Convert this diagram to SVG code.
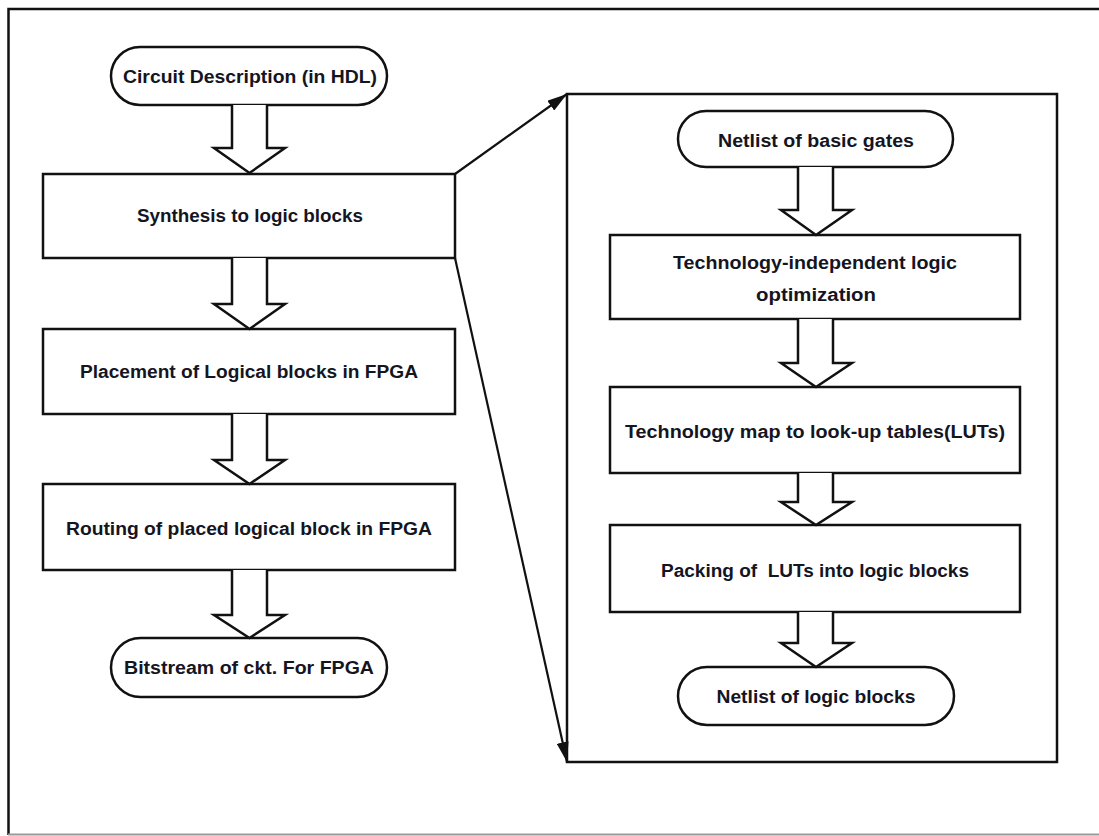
<svg xmlns="http://www.w3.org/2000/svg" width="1099" height="836" viewBox="0 0 1099 836">
  <defs>
    <style>
      .box { fill: #fff; stroke: #111; stroke-width: 2.5; }
      .flow { fill: #fff; stroke: #111; stroke-width: 2.5; stroke-linejoin: miter; }
      .lbl { font-family: "Liberation Sans", Arial, sans-serif; font-weight: bold; font-size: 18px; fill: #15151f; text-anchor: middle; }
      .link { fill: none; stroke: #111; stroke-width: 2.2; }
    </style>
    <marker id="head" viewBox="0 0 20 12" refX="20" refY="6" markerWidth="20" markerHeight="12" markerUnits="userSpaceOnUse" orient="auto">
      <path d="M0,0 L20,6 L0,12 Z" fill="#111"/>
    </marker>
  </defs>

  <rect width="1099" height="836" fill="#fff"/>

  <!-- outer frame -->
  <g id="frame">
    <path d="M8.5,835 L8.5,9 L1099,9" fill="none" stroke="#111" stroke-width="2.5"/>
    <path d="M8,834.5 L1099,834.5" fill="none" stroke="#999" stroke-width="2"/>
  </g>

  <!-- left column: design flow -->
  <g id="n-circuit">
    <rect class="box" x="111" y="47" width="276" height="58" rx="29"/>
    <text class="lbl" x="250" y="83" textLength="254" lengthAdjust="spacingAndGlyphs">Circuit Description (in HDL)</text>
  </g>
  <g id="n-synthesis">
    <rect class="box" x="43" y="174" width="412" height="84"/>
    <text class="lbl" x="250" y="222" textLength="226" lengthAdjust="spacingAndGlyphs">Synthesis to logic blocks</text>
  </g>
  <g id="n-placement">
    <rect class="box" x="43" y="329" width="412" height="85"/>
    <text class="lbl" x="249" y="378" textLength="338" lengthAdjust="spacingAndGlyphs">Placement of Logical blocks in FPGA</text>
  </g>
  <g id="n-routing">
    <rect class="box" x="43" y="484" width="412" height="86"/>
    <text class="lbl" x="249" y="535" textLength="366" lengthAdjust="spacingAndGlyphs">Routing of placed logical block in FPGA</text>
  </g>
  <g id="n-bitstream">
    <rect class="box" x="111" y="638" width="276" height="59" rx="29.5"/>
    <text class="lbl" x="249" y="674" textLength="250" lengthAdjust="spacingAndGlyphs">Bitstream of ckt. For FPGA</text>
  </g>

  <!-- right panel: synthesis detail -->
  <g id="n-panel">
    <rect x="567" y="94" width="490" height="668" fill="none" stroke="#111" stroke-width="2.5"/>
  </g>
  <g id="n-netlist-gates">
    <rect class="box" x="678" y="111" width="275" height="56" rx="28"/>
    <text class="lbl" x="816" y="147" textLength="196" lengthAdjust="spacingAndGlyphs">Netlist of basic gates</text>
  </g>
  <g id="n-tech-indep">
    <rect class="box" x="610" y="235" width="410" height="84"/>
    <text class="lbl" x="815" y="269" textLength="284" lengthAdjust="spacingAndGlyphs">Technology-independent logic</text>
    <text class="lbl" x="816" y="301" textLength="120" lengthAdjust="spacingAndGlyphs">optimization</text>
  </g>
  <g id="n-tech-map">
    <rect class="box" x="610" y="387" width="410" height="86"/>
    <text class="lbl" x="815" y="438" textLength="380" lengthAdjust="spacingAndGlyphs">Technology map to look-up tables(LUTs)</text>
  </g>
  <g id="n-packing">
    <rect class="box" x="610" y="525" width="410" height="87"/>
    <text class="lbl" x="815" y="577" textLength="308" lengthAdjust="spacingAndGlyphs" xml:space="preserve">Packing of  LUTs into logic blocks</text>
  </g>
  <g id="n-netlist-blocks">
    <rect class="box" x="678" y="667" width="276" height="58" rx="29"/>
    <text class="lbl" x="816" y="703" textLength="199" lengthAdjust="spacingAndGlyphs">Netlist of logic blocks</text>
  </g>

  <!-- connectors -->
  <g id="connectors">
    <!-- hollow block arrows, left column -->
    <path class="flow" d="M232,105 V148 H214 L249.5,173 L285,148 H267 V105"/>
    <path class="flow" d="M232,258 V304 H214 L249.5,329 L285,304 H267 V258"/>
    <path class="flow" d="M232,414 V460 H214 L249.5,484 L285,460 H267 V414"/>
    <path class="flow" d="M232,570 V615 H214 L249.5,638 L285,615 H267 V570"/>
    <!-- hollow block arrows, right panel -->
    <path class="flow" d="M798,167 V210 H781 L816,235 L852,210 H833 V167"/>
    <path class="flow" d="M798,319 V363 H781 L816,387 L852,363 H833 V319"/>
    <path class="flow" d="M798,473 V502 H781 L816,525 L852,502 H833 V473"/>
    <path class="flow" d="M798,612 V643 H781 L816,667 L852,643 H833 V612"/>
    <!-- expansion lines from the synthesis box to the panel -->
    <line class="link" x1="455" y1="174" x2="567" y2="94" marker-end="url(#head)"/>
    <line class="link" x1="455" y1="258" x2="567" y2="762" marker-end="url(#head)"/>
  </g>
</svg>
